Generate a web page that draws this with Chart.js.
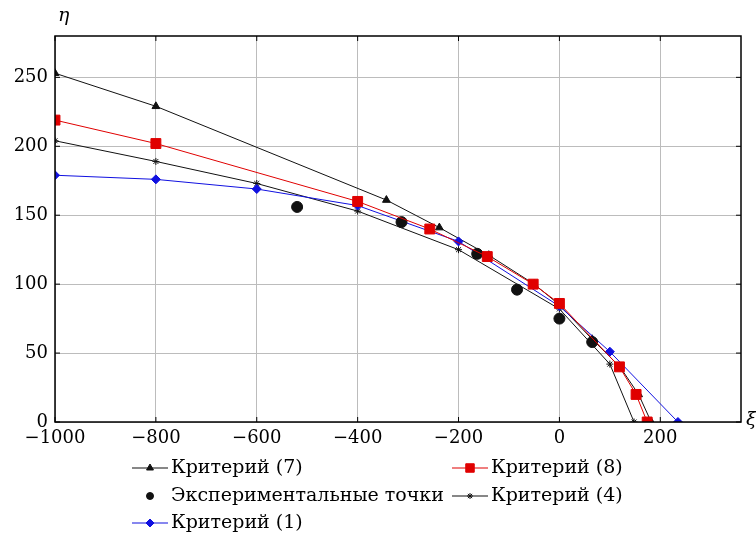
<!DOCTYPE html>
<html>
<head>
<meta charset="utf-8">
<script src="https://cdn.jsdelivr.net/npm/chart.js@4.4.1/dist/chart.umd.min.js"></script>
<style>
  html, body { margin: 0; padding: 0; background: #fff; }
  #wrap { width: 756px; height: 542px; position: relative; }
</style>
</head>
<body>
<div id="wrap"><canvas id="chart"></canvas></div>
<script>
// values
const c7X = [-1000, -800, -343, -238, -140, -50, 0, 65, 120, 157, 182];
const c7Y = [253, 229, 161, 141, 121, 100, 85, 60, 40, 20, 0];

const c8X = [-1000, -800, -400, -257, -143, -52, 0, 119, 152, 174];
const c8Y = [219, 202, 160, 140, 120, 100, 86, 40, 20, 0];

const c4X = [-1000, -800, -600, -400, -200, 0, 100, 148];
const c4Y = [204, 189, 173, 153, 125, 82, 42, 0];

const c1X = [-1000, -800, -600, -400, -200, 0, 100, 235];
const c1Y = [179, 176, 169, 157, 131, 84, 51, 0];

const expX = [-520, -313, -163, -84, 0, 65];
const expY = [156, 145, 122, 96, 75, 58];

const xTicks = [-1000, -800, -600, -400, -200, 0, 200];
const yTicks = [0, 50, 100, 150, 200, 250];

const FONT = '"DejaVu Serif", "Liberation Serif", serif';
const red = '#e00000';
const blue = '#1010e0';
const black = '#111';

const pts = (xs, ys) => xs.map((x, i) => ({ x, y: ys[i] }));

// legend grid: [datasetIndex, column, row]
const legendCells = [[0, 0, 0], [1, 1, 0], [2, 0, 1], [3, 1, 1], [4, 0, 2]];

const decor = {
  id: 'decor',
  afterDatasetsDraw(chart) {
    const { ctx, chartArea: a } = chart;
    ctx.save();
    ctx.strokeStyle = '#000';
    ctx.lineWidth = 1.5;
    ctx.strokeRect(a.left, a.top, a.right - a.left, a.bottom - a.top);

    // small inward ticks on all edges
    ctx.lineWidth = 1;
    const ys = chart.scales.y, xs = chart.scales.x;
    yTicks.forEach(v => {
      const p = ys.getPixelForValue(v);
      ctx.beginPath(); ctx.moveTo(a.right - 5, p); ctx.lineTo(a.right, p); ctx.stroke();
      ctx.beginPath(); ctx.moveTo(a.left, p); ctx.lineTo(a.left + 5, p); ctx.stroke();
    });
    xTicks.forEach(v => {
      const p = xs.getPixelForValue(v);
      ctx.beginPath(); ctx.moveTo(p, a.top); ctx.lineTo(p, a.top + 5); ctx.stroke();
      ctx.beginPath(); ctx.moveTo(p, a.bottom - 5); ctx.lineTo(p, a.bottom); ctx.stroke();
    });

    // axis names
    ctx.fillStyle = '#000';
    ctx.font = 'italic 19px ' + FONT;
    ctx.textAlign = 'left';
    ctx.textBaseline = 'middle';
    ctx.fillText('η', 58, 16);
    ctx.fillText('ξ', 746, 420);

    // legend
    const colX = [132, 452];
    const rowY = [468, 496, 523];
    ctx.font = '19px ' + FONT;
    legendCells.forEach(([di, c, r]) => {
      const ds = chart.data.datasets[di];
      const x0 = colX[c], y = rowY[r];
      if (ds.showLine !== false) {
        ctx.strokeStyle = ds.borderColor;
        ctx.lineWidth = 1.2;
        ctx.beginPath(); ctx.moveTo(x0, y); ctx.lineTo(x0 + 36, y); ctx.stroke();
      }
      ctx.fillStyle = ds.pointBackgroundColor;
      ctx.strokeStyle = ds.pointBorderColor;
      ctx.lineWidth = 1;
      Chart.helpers.drawPoint(ctx, {
        pointStyle: ds.pointStyle,
        radius: ds.legendRadius,
        borderWidth: 1
      }, x0 + 18, y);
      ctx.fillStyle = '#000';
      ctx.fillText(ds.label, x0 + 39, y);
    });
    ctx.restore();
  }
};

new Chart(document.getElementById('chart'), {
  type: 'scatter',
  data: {
    datasets: [
      {
        label: 'Критерий (7)', data: pts(c7X, c7Y), showLine: true,
        borderColor: black, backgroundColor: black, borderWidth: 1,
        pointStyle: 'triangle', pointRadius: 4.5, legendRadius: 4,
        pointBackgroundColor: black, pointBorderColor: black, order: 4
      },
      {
        label: 'Критерий (8)', data: pts(c8X, c8Y), showLine: true,
        borderColor: red, backgroundColor: red, borderWidth: 1,
        pointStyle: 'rect', pointRadius: 7, legendRadius: 6,
        pointBackgroundColor: red, pointBorderColor: red, order: 0
      },
      {
        label: 'Экспериментальные точки', data: pts(expX, expY), showLine: false,
        borderColor: black, backgroundColor: black,
        pointStyle: 'circle', pointRadius: 5.5, legendRadius: 3.5,
        pointBackgroundColor: black, pointBorderColor: black, order: 1
      },
      {
        label: 'Критерий (4)', data: pts(c4X, c4Y), showLine: true,
        borderColor: black, backgroundColor: black, borderWidth: 1,
        pointStyle: 'star', pointRadius: 3.5, legendRadius: 3,
        pointBackgroundColor: black, pointBorderColor: black, order: 3
      },
      {
        label: 'Критерий (1)', data: pts(c1X, c1Y), showLine: true,
        borderColor: blue, backgroundColor: blue, borderWidth: 1,
        pointStyle: 'rectRot', pointRadius: 4.5, legendRadius: 4,
        pointBackgroundColor: blue, pointBorderColor: blue, order: 2
      }
    ]
  },
  options: {
    responsive: true,
    maintainAspectRatio: false,
    animation: false,
    events: [],
    layout: { padding: { top: 36, right: 15, left: 0, bottom: 0 } },
    plugins: { legend: { display: false }, tooltip: { enabled: false } },
    scales: {
      x: {
        type: 'linear', min: -1000, max: 360,
        afterBuildTicks: s => { s.ticks = xTicks.map(v => ({ value: v })); },
        afterFit: s => { s.height = 120; },
        grid: { color: '#bcbcbc', lineWidth: 1, drawTicks: false },
        border: { display: false },
        ticks: {
          color: '#000', padding: 6, font: { family: FONT, size: 18 },
          callback: v => String(v).replace('-', '\u2212')
        }
      },
      y: {
        type: 'linear', min: 0, max: 280,
        afterBuildTicks: s => { s.ticks = yTicks.map(v => ({ value: v })); },
        afterFit: s => { s.width = 55; },
        grid: { color: '#bcbcbc', lineWidth: 1, drawTicks: false },
        border: { display: false },
        ticks: { color: '#000', padding: 7, font: { family: FONT, size: 18 } }
      }
    }
  },
  plugins: [decor]
});
</script>
</body>
</html>
